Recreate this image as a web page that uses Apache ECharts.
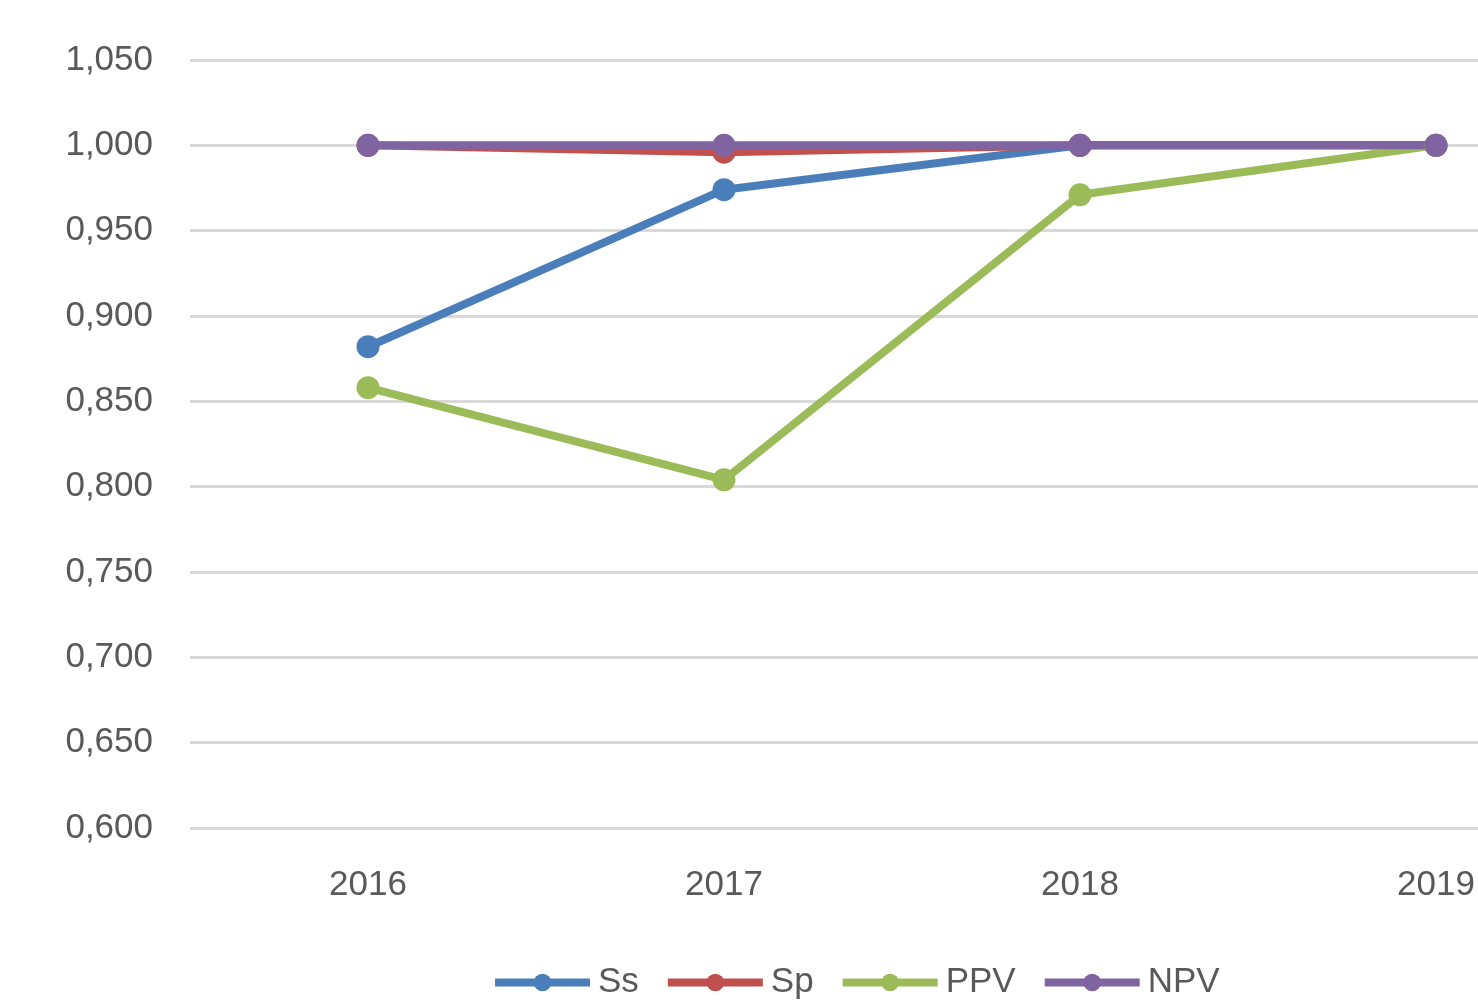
<!DOCTYPE html>
<html>
<head>
<meta charset="utf-8">
<script src="https://cdn.jsdelivr.net/npm/echarts@6/dist/echarts.min.js"></script>
<style>
html,body{margin:0;padding:0;background:#fff;overflow:hidden;width:1478px;height:1005px;}
#c{width:1614px;height:1005px;}
</style>
</head>
<body>
<div id="c"></div>
<script>
const categories = ['2016', '2017', '2018', '2019'];
const ss  = [0.882, 0.974, 1.000, 1.000];
const sp  = [1.000, 0.996, 1.000, 1.000];
const ppv = [0.858, 0.804, 0.971, 1.000];
const npv = [1.000, 1.000, 1.000, 1.000];
const seriesNames = ['Ss', 'Sp', 'PPV', 'NPV'];
const colors = ['#4A7EBB', '#C0504D', '#9BBB59', '#8064A2'];

const chart = echarts.init(document.getElementById('c'));
const FONT = 'Liberation Sans';
function mk(name, data, color) {
  return {
    name: name, type: 'line', data: data,
    symbol: 'circle', symbolSize: 23,
    lineStyle: { width: 8, color: color },
    itemStyle: { color: color },
    emphasis: { disabled: true },
    animation: false
  };
}
chart.setOption({
  animation: false,
  color: colors,
  grid: { left: 190, top: 60, bottom: 177, right: 0, containLabel: false },
  xAxis: {
    type: 'category', data: categories, boundaryGap: true,
    axisLine: { show: false }, axisTick: { show: false },
    axisLabel: { color: '#595959', fontSize: 35, fontFamily: FONT, margin: 40 }
  },
  yAxis: {
    type: 'value', min: 0.6, max: 1.05, interval: 0.05,
    axisLine: { show: false }, axisTick: { show: false },
    splitLine: { lineStyle: { color: '#D9D9D9', width: 3 } },
    axisLabel: {
      color: '#595959', fontSize: 35, fontFamily: FONT, margin: 37,
      formatter: v => v.toFixed(3).replace('.', ',')
    }
  },
  legend: {
    left: 491, top: 965, padding: 0,
    itemWidth: 95, itemHeight: 22, itemGap: 25,
    lineStyle: { width: 8 },
    textStyle: { color: '#595959', fontSize: 35, fontFamily: FONT, padding: [0,0,0,3] },
    data: seriesNames
  },
  series: [
    mk(seriesNames[0], ss, colors[0]),
    mk(seriesNames[1], sp, colors[1]),
    mk(seriesNames[2], ppv, colors[2]),
    mk(seriesNames[3], npv, colors[3])
  ]
});
</script>
</body>
</html>
